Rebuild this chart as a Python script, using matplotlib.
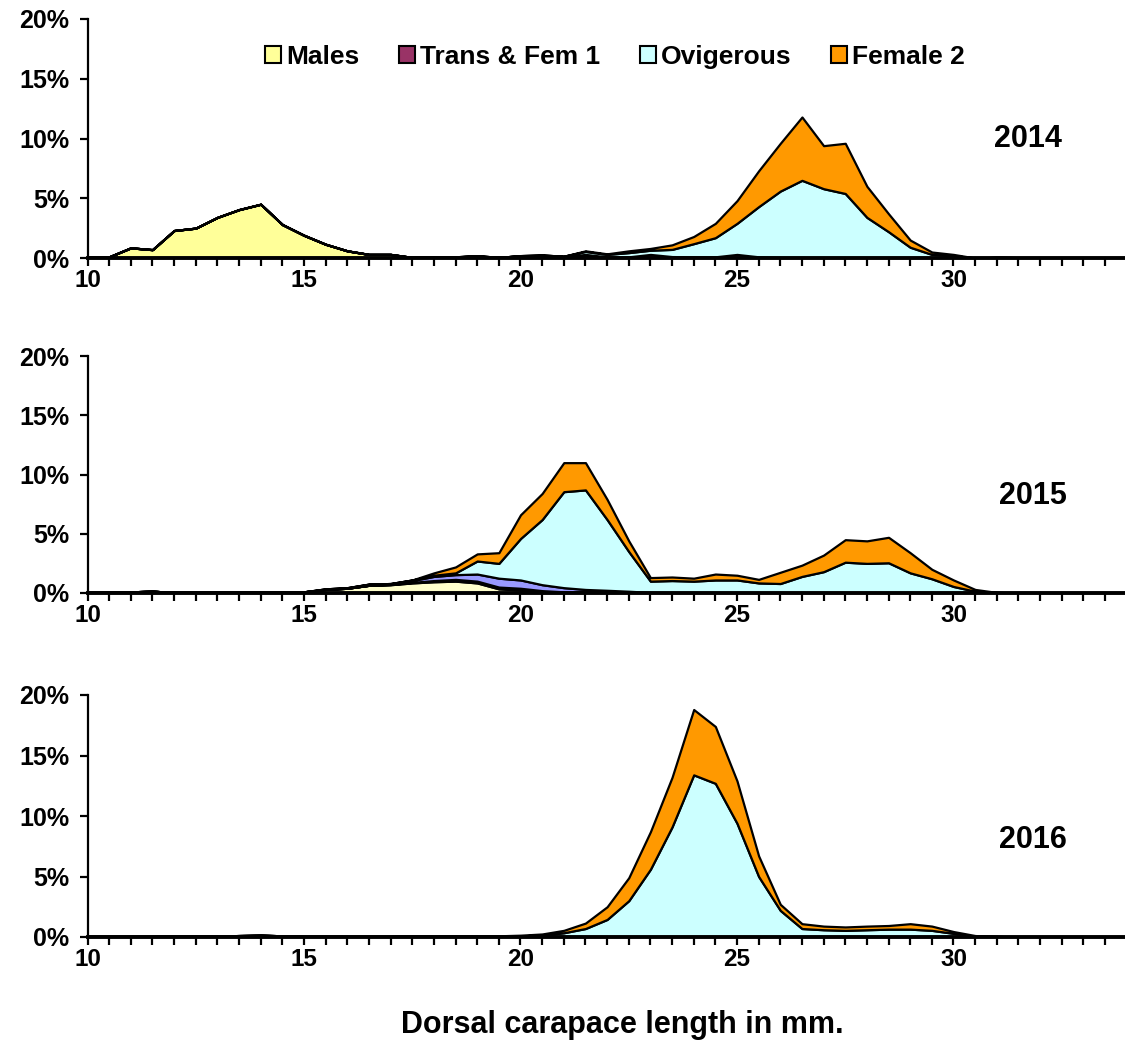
import numpy as np
import matplotlib
matplotlib.use("Agg")
import matplotlib.pyplot as plt
from matplotlib.patches import Patch
from matplotlib.ticker import FixedLocator, FuncFormatter

plt.rcParams['font.family'] = ['Liberation Sans', 'DejaVu Sans']
plt.rcParams['font.weight'] = 'bold'

# Carapace length classes (mm), 0.5 mm bins
lengths = [10 + 0.5 * i for i in range(50)]

# Percent of catch per length class, by stage
males_2014 = [0.1, 0.1, 0.85, 0.7, 2.3, 2.5, 3.4, 4.05, 4.5, 2.8,
              1.9, 1.15, 0.6, 0.3, 0.3, 0.05, 0.1, 0.1, 0.15, 0.05,
              0.05, 0.05, 0.05, 0.15, 0.05, 0.05, 0.05, 0.02, 0.02, 0,
              0, 0, 0, 0, 0, 0, 0, 0, 0, 0,
              0, 0, 0.05, 0.03, 0, 0, 0, 0, 0, 0]
trans_2014 = [0, 0, 0, 0, 0, 0, 0, 0, 0, 0,
              0, 0, 0, 0, 0, 0, 0, 0, 0, 0,
              0.15, 0.15, 0.05, 0.15, 0.05, 0.05, 0.25, 0.1, 0.08, 0.1,
              0.3, 0.1, 0.05, 0.05, 0, 0, 0, 0, 0, 0,
              0, 0, 0, 0, 0, 0, 0, 0, 0, 0]
ovig_2014 = [0, 0, 0, 0, 0, 0, 0, 0, 0, 0,
             0, 0, 0, 0, 0, 0, 0, 0, 0.05, 0,
             0, 0.05, 0.05, 0.25, 0.2, 0.35, 0.35, 0.6, 1.1, 1.6,
             2.6, 4.2, 5.55, 6.45, 5.8, 5.4, 3.4, 2.2, 0.9, 0.3,
             0.2, 0, 0, 0, 0, 0, 0, 0, 0, 0]
fem2_2014 = [0, 0, 0, 0, 0, 0, 0, 0, 0, 0,
             0, 0, 0, 0, 0, 0, 0, 0, 0, 0,
             0, 0, 0, 0.05, 0.05, 0.15, 0.15, 0.38, 0.6, 1.2,
             1.9, 3.0, 4.0, 5.3, 3.6, 4.2, 2.6, 1.5, 0.6, 0.2,
             0.1, 0, 0, 0, 0, 0, 0, 0, 0, 0]

males_2015 = [0.05, 0.05, 0.1, 0.15, 0.05, 0.05, 0.05, 0.05, 0.1, 0.05,
              0.1, 0.3, 0.4, 0.65, 0.7, 0.85, 0.95, 1.0, 0.85, 0.35,
              0.25, 0.1, 0.05, 0.05, 0.05, 0.03, 0, 0, 0, 0,
              0, 0, 0, 0, 0, 0, 0, 0, 0, 0,
              0, 0, 0, 0, 0, 0, 0, 0, 0, 0]
trans_2015 = [0, 0, 0, 0, 0, 0, 0, 0, 0, 0,
              0, 0, 0, 0, 0.02, 0.05, 0.1, 0.15, 0.15, 0.15,
              0.15, 0.1, 0.05, 0.05, 0.03, 0.02, 0, 0, 0, 0,
              0, 0, 0, 0, 0, 0, 0, 0, 0, 0,
              0, 0, 0, 0, 0, 0, 0, 0, 0, 0]
fem1_2015 = [0, 0, 0, 0, 0, 0, 0, 0, 0, 0,
             0, 0, 0, 0, 0.05, 0.15, 0.35, 0.4, 0.6, 0.75,
             0.7, 0.5, 0.35, 0.2, 0.15, 0.1, 0.05, 0.03, 0, 0,
             0, 0, 0, 0, 0, 0, 0, 0, 0, 0,
             0, 0, 0, 0, 0, 0, 0, 0, 0, 0]
ovig_2015 = [0, 0, 0, 0, 0, 0, 0, 0, 0, 0,
             0, 0.05, 0.05, 0.1, 0.03, 0.05, 0.1, 0.15, 1.1, 1.25,
             3.5, 5.5, 8.1, 8.4, 5.97, 3.35, 0.95, 1.02, 1.0, 1.1,
             1.1, 0.85, 0.8, 1.4, 1.8, 2.6, 2.5, 2.55, 1.7, 1.2,
             0.55, 0.15, 0.05, 0, 0, 0, 0, 0, 0, 0]
fem2_2015 = [0, 0, 0, 0, 0, 0, 0, 0, 0, 0,
             0, 0, 0, 0, 0, 0, 0.2, 0.5, 0.6, 0.9,
             2.0, 2.2, 2.45, 2.3, 1.7, 0.9, 0.3, 0.3, 0.25, 0.5,
             0.4, 0.3, 0.95, 0.95, 1.4, 1.9, 1.9, 2.15, 1.7, 0.8,
             0.55, 0.15, 0, 0, 0, 0, 0, 0, 0, 0]

males_2016 = [0.05, 0.05, 0.05, 0.05, 0.1, 0.1, 0.08, 0.12, 0.15, 0.1,
              0.05, 0.05, 0.05, 0.05, 0.05, 0.1, 0.05, 0.1, 0.1, 0.1,
              0.05, 0.05, 0.05, 0, 0, 0, 0, 0, 0, 0,
              0, 0, 0, 0, 0, 0, 0, 0, 0, 0,
              0, 0, 0, 0, 0, 0, 0, 0, 0, 0]
ovig_2016 = [0, 0, 0, 0, 0, 0, 0, 0, 0, 0,
             0, 0, 0, 0, 0, 0, 0, 0, 0, 0,
             0.05, 0.1, 0.3, 0.7, 1.45, 3.0, 5.6, 9.1, 13.4, 12.7,
             9.4, 5.0, 2.2, 0.7, 0.6, 0.55, 0.6, 0.65, 0.65, 0.55,
             0.3, 0.05, 0.05, 0, 0, 0, 0, 0, 0, 0]
fem2_2016 = [0, 0, 0, 0, 0, 0, 0, 0, 0, 0,
             0, 0, 0, 0, 0, 0, 0, 0, 0, 0,
             0.05, 0.1, 0.2, 0.45, 1.05, 1.9, 3.1, 4.1, 5.4, 4.7,
             3.5, 1.7, 0.5, 0.4, 0.3, 0.28, 0.3, 0.3, 0.45, 0.35,
             0.15, 0.07, 0, 0, 0, 0, 0, 0, 0, 0]

legend_labels = ["Males", "Trans & Fem 1", "Ovigerous", "Female 2"]
legend_colors = ["#FFFF99", "#993366", "#CCFFFF", "#FF9900"]

panels = [
    ("2014", [(males_2014, "#FFFF99"), (trans_2014, "#993366"),
              (ovig_2014, "#CCFFFF"), (fem2_2014, "#FF9900")]),
    ("2015", [(males_2015, "#FFFFCC"), (trans_2015, "#993366"),
              (fem1_2015, "#9999FF"), (ovig_2015, "#CCFFFF"),
              (fem2_2015, "#FF9900")]),
    ("2016", [(males_2016, "#FFFF99"), (ovig_2016, "#CCFFFF"),
              (fem2_2016, "#FF9900")]),
]

W, H = 1125, 1045
fig = plt.figure(figsize=(W / 100, H / 100), dpi=100)

# pixel frames of each panel: (top of 20% line, zero line)
frames = [(19, 258), (356, 593), (695, 937)]
year_pos = [(1028, 139), (1033, 496), (1033, 840)]
x_left_px = 87.5
step_px = 21.65
x_right_px = x_left_px + 49 * step_px

x = np.array(lengths)
for (year, layers), (ytop, ybot), (tx, ty) in zip(panels, frames, year_pos):
    ax = fig.add_axes([x_left_px / W, 1 - ybot / H,
                       (x_right_px - x_left_px) / W, (ybot - ytop) / H])
    base = np.zeros_like(x)
    for z, (vals, color) in enumerate(layers):
        top = base + np.array(vals)
        ax.fill_between(x, base, top, facecolor=color, edgecolor="black",
                        linewidth=1.6, zorder=2 + z)
        base = top
    ax.set_xlim(10, 34.5)
    ax.set_ylim(0, 20)
    ax.set_yticks([0, 5, 10, 15, 20])
    ax.yaxis.set_major_formatter(FuncFormatter(lambda v, p: f"{int(v)}%"))
    ax.xaxis.set_major_locator(FixedLocator([10 + 0.5 * i for i in range(49)]))
    ax.xaxis.set_major_formatter(FuncFormatter(
        lambda v, p: f"{int(v)}" if abs(v % 5) < 1e-6 and v <= 30 else ""))
    for s in ("top", "right"):
        ax.spines[s].set_visible(False)
    ax.spines["left"].set_linewidth(1.6)
    ax.spines["bottom"].set_linewidth(2.8)
    ax.spines["bottom"].set_zorder(10)
    ax.tick_params(axis="both", direction="out", length=6, width=1.6)
    ax.tick_params(axis="y", labelsize=18, pad=7)
    ax.tick_params(axis="x", labelsize=17.5, pad=2)
    for lab in ax.get_xticklabels() + ax.get_yticklabels():
        lab.set_fontweight("bold")
    ax.patch.set_alpha(0)
    fig.text(tx / W, 1 - ty / H, year, fontsize=22, fontweight="bold",
             ha="center", va="center")

handles = [Patch(facecolor=c, edgecolor="black", linewidth=1.5)
           for c in legend_colors]
fig.legend(handles, legend_labels, loc="center", ncol=4, frameon=False,
           bbox_to_anchor=(615 / W, 1 - 57 / H),
           prop={"weight": "bold", "size": 19},
           handlelength=0.6, handleheight=0.6, handletextpad=0.2,
           columnspacing=1.5, borderpad=0)

fig.text(622 / W, 1 - 1025 / H, "Dorsal carapace length in mm.",
         fontsize=22, fontweight="bold", ha="center", va="center")

fig.savefig("out.png", dpi=100)
